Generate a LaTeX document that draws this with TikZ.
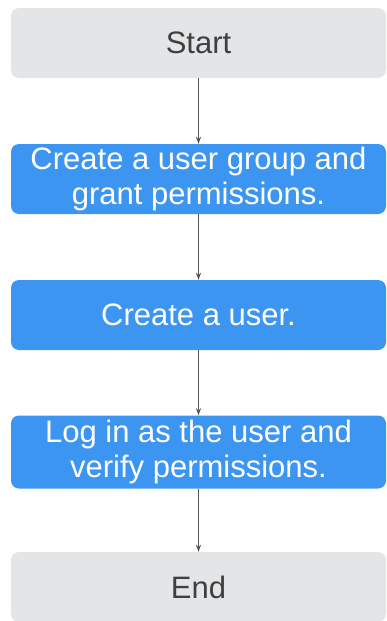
\documentclass[tikz,border=0pt]{standalone}
\usepackage{fontspec}
\setmainfont{Liberation Sans}
\usepackage{xcolor}
\usetikzlibrary{arrows.meta}
\usetikzlibrary{positioning}

\definecolor{stepblue}{HTML}{3D95F2}
\definecolor{endgray}{HTML}{E3E5E7}
\definecolor{textgray}{HTML}{3F3F3F}
\definecolor{linegray}{HTML}{555555}

\tikzset{
	flowbox/.style={rounded corners=8pt, minimum width=375pt, minimum height=70pt, inner sep=0pt, align=center, font=\fontsize{31}{35}\selectfont},
	endbox/.style={flowbox, fill=endgray, text=textgray},
	stepbox/.style={flowbox, fill=stepblue, text=white},
	flowarrow/.style={-{Stealth[length=7pt,width=5pt]}, draw=linegray, line width=1.3pt}
}

\begin{document}
\begin{tikzpicture}[x=1pt,y=1pt]
					\useasboundingbox (0,0) rectangle (387,-621);
					% Boxes
					\node[endbox] (start) at (198.5,-43) {Start};
					\node[stepbox] (group) at (198.5,-179) {Create a user group and\\grant permissions.};
					\node[stepbox] (user) at (198.5,-315) {Create a user.};
					\node[stepbox, minimum height=73pt] (login) at (198.5,-452) {Log in as the user and\\verify permissions.};
					\node[endbox] (end) at (198.5,-587) {End};
					
					% Arrows
					\draw[flowarrow] (start) -- (group);
					\draw[flowarrow] (group) -- (user);
					\draw[flowarrow] (user) -- (login);
					\draw[flowarrow] (login) -- (end);
				\end{tikzpicture}
\end{document}
